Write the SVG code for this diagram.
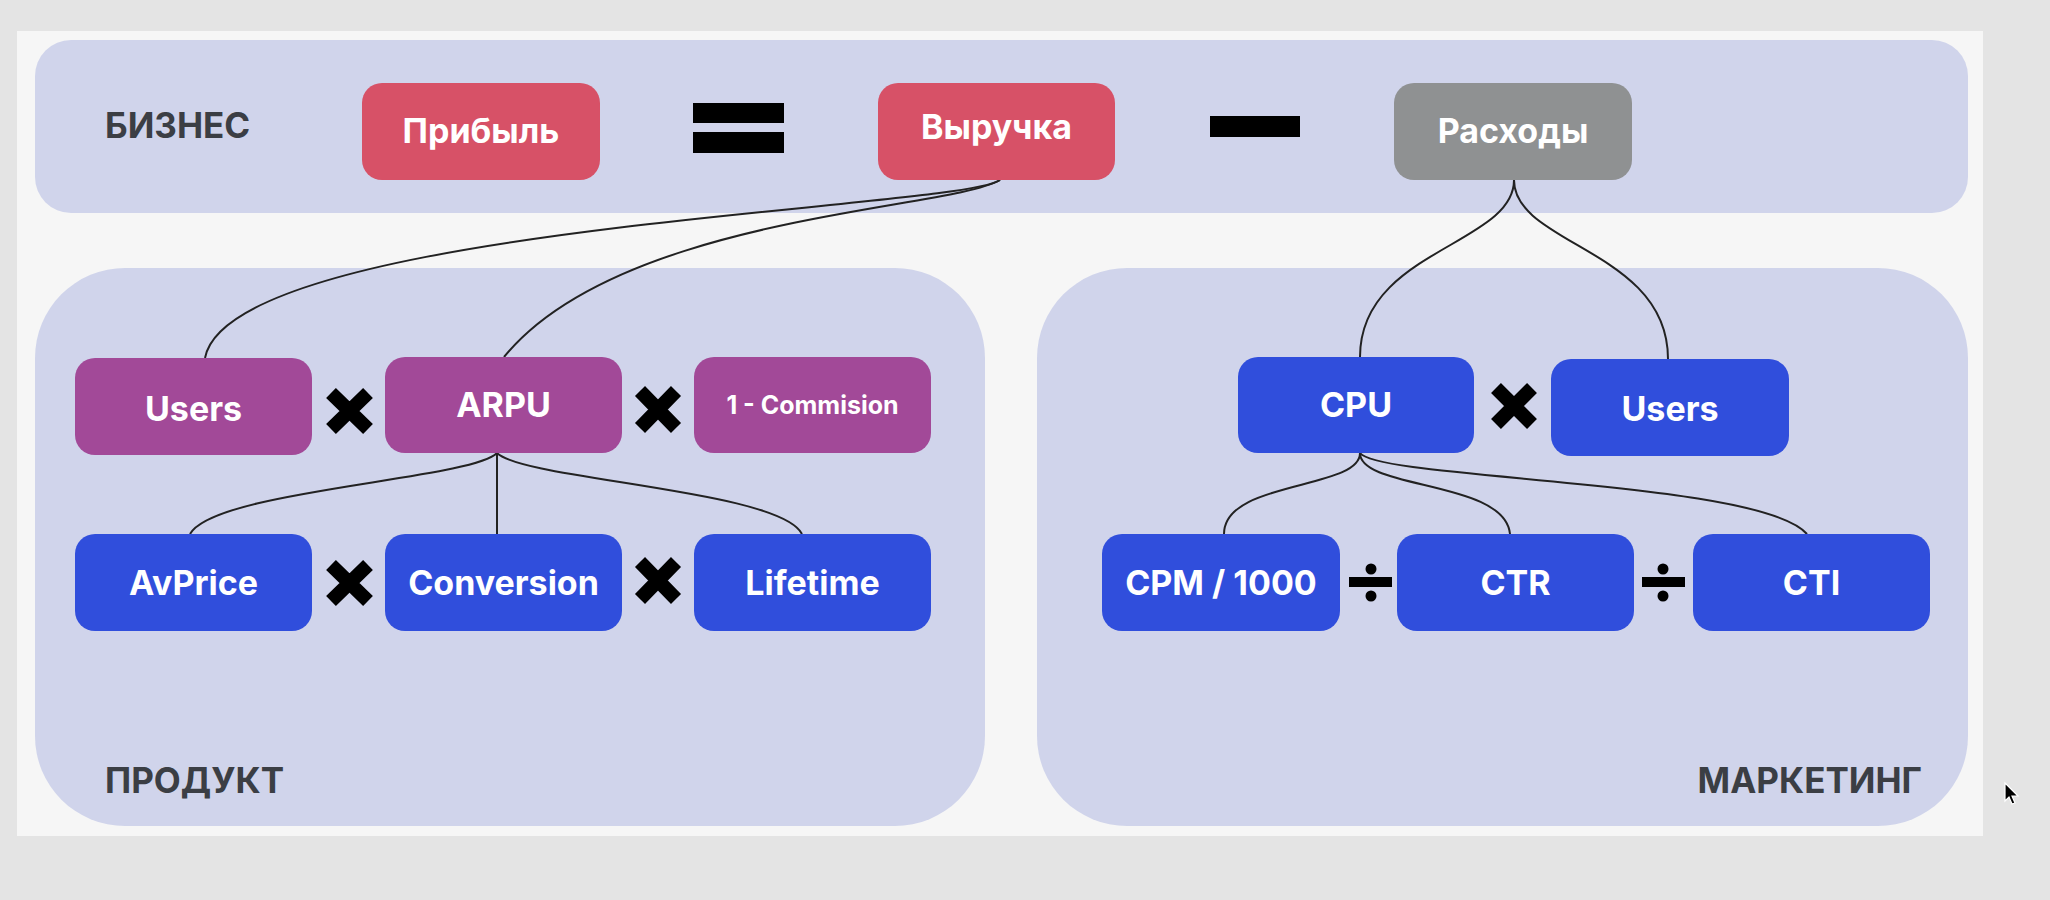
<svg xmlns="http://www.w3.org/2000/svg" width="2050" height="900" viewBox="0 0 2050 900">
<defs>
<style>
.panel{fill:#d0d4eb}
.node rect{rx:20px;ry:20px}
.red{fill:#d75167}
.gray{fill:#8f9192}
.purple{fill:#a24998}
.blue{fill:#304edc}
.lbl{font-family:Inter,"Liberation Sans",sans-serif;font-weight:700;font-size:34px;fill:#ffffff;text-anchor:middle}
.sec{font-family:Inter,"Liberation Sans",sans-serif;font-weight:700;font-size:35px;fill:#3b3e44}
.conn path{fill:none;stroke:#222;stroke-width:2}
.op{fill:#000}
.x{stroke:#000;stroke-width:14;stroke-linecap:butt}
</style>
</defs>
<rect x="0" y="0" width="2050" height="900" fill="#e4e4e4"/>
<rect x="17" y="31" width="1966" height="805" fill="#f6f6f6"/>

<g id="sec-business">
<rect class="panel" x="35" y="40" width="1933" height="173" rx="36" ry="36"/>
<text class="sec" x="105" y="138">БИЗНЕС</text>
</g>
<g id="sec-product">
<rect class="panel" x="35" y="268" width="950" height="558" rx="90" ry="90"/>
<text class="sec" x="105" y="793">ПРОДУКТ</text>
</g>
<g id="sec-marketing">
<rect class="panel" x="1037" y="268" width="931" height="558" rx="90" ry="90"/>
<text class="sec" x="1922" y="793" text-anchor="end">МАРКЕТИНГ</text>
</g>

<g class="conn" id="connectors">
<path d="M1000,180 C960,210 230,225 205,358"/>
<path d="M1000,180 C950,210 620,215 504,357"/>
<path d="M1514,180 C1514,245 1360,250 1360,357"/>
<path d="M1514,180 C1514,245 1668,250 1668,359"/>
<path d="M497,453 C470,480 215,490 190,534"/>
<path d="M497,453 L497,534"/>
<path d="M497,453 C525,480 780,490 802,534"/>
<path d="M1360,453 C1360,490 1224,480 1224,534"/>
<path d="M1360,453 C1360,490 1505,480 1510,534"/>
<path d="M1360,453 C1380,480 1760,480 1807,534"/>
</g>

<g id="n-pribyl" class="node"><rect class="red" x="362" y="83" width="238" height="97"/><text class="lbl" x="481" y="143">Прибыль</text></g>
<g id="n-vyruchka" class="node"><rect class="red" x="878" y="83" width="237" height="97"/><text class="lbl" x="996.5" y="139">Выручка</text></g>
<g id="n-rashody" class="node"><rect class="gray" x="1394" y="83" width="238" height="97"/><text class="lbl" x="1513" y="143">Расходы</text></g>

<g id="n-users-p" class="node"><rect class="purple" x="75" y="358" width="237" height="97"/><text class="lbl" x="193.5" y="421">Users</text></g>
<g id="n-arpu" class="node"><rect class="purple" x="385" y="357" width="237" height="96"/><text class="lbl" x="503.5" y="417">ARPU</text></g>
<g id="n-commision" class="node"><rect class="purple" x="694" y="357" width="237" height="96"/><text class="lbl" x="812.5" y="414" style="font-size:25px">1 - Commision</text></g>

<g id="n-avprice" class="node"><rect class="blue" x="75" y="534" width="237" height="97"/><text class="lbl" x="193.5" y="595">AvPrice</text></g>
<g id="n-conversion" class="node"><rect class="blue" x="385" y="534" width="237" height="97"/><text class="lbl" x="503.5" y="595">Conversion</text></g>
<g id="n-lifetime" class="node"><rect class="blue" x="694" y="534" width="237" height="97"/><text class="lbl" x="812.5" y="595">Lifetime</text></g>

<g id="n-cpu" class="node"><rect class="blue" x="1238" y="357" width="236" height="96"/><text class="lbl" x="1356" y="417">CPU</text></g>
<g id="n-users-m" class="node"><rect class="blue" x="1551" y="359" width="238" height="97"/><text class="lbl" x="1670" y="421">Users</text></g>

<g id="n-cpm" class="node"><rect class="blue" x="1102" y="534" width="238" height="97"/><text class="lbl" x="1221" y="595">CPM / 1000</text></g>
<g id="n-ctr" class="node"><rect class="blue" x="1397" y="534" width="237" height="97"/><text class="lbl" x="1515.5" y="595">CTR</text></g>
<g id="n-cti" class="node"><rect class="blue" x="1693" y="534" width="237" height="97"/><text class="lbl" x="1811.5" y="595">CTI</text></g>

<g id="operators">
<rect class="op" x="693" y="103" width="91" height="20"/>
<rect class="op" x="693" y="132" width="91" height="21"/>
<rect class="op" x="1210" y="116" width="90" height="21"/>
<g class="x">
<path d="M331,393 L368,429 M368,393 L331,429"/>
<path d="M640,391 L676,428 M676,391 L640,428"/>
<path d="M331,565 L368,601 M368,565 L331,601"/>
<path d="M640,562 L676,599 M676,562 L640,599"/>
<path d="M1496,388 L1532,424 M1532,388 L1496,424"/>
</g>
<rect class="op" x="1349" y="577" width="43" height="10"/>
<circle class="op" cx="1371" cy="569" r="5.5"/>
<circle class="op" cx="1371" cy="596" r="5.5"/>
<rect class="op" x="1642" y="577" width="43" height="10"/>
<circle class="op" cx="1663" cy="569" r="5.5"/>
<circle class="op" cx="1663" cy="596" r="5.5"/>
</g>

<path d="M2005,783 L2005,801 L2009,797 L2012,804 L2015,803 L2012,796 L2018,796 Z" fill="#000" stroke="#fff" stroke-width="1.2"/>
</svg>
